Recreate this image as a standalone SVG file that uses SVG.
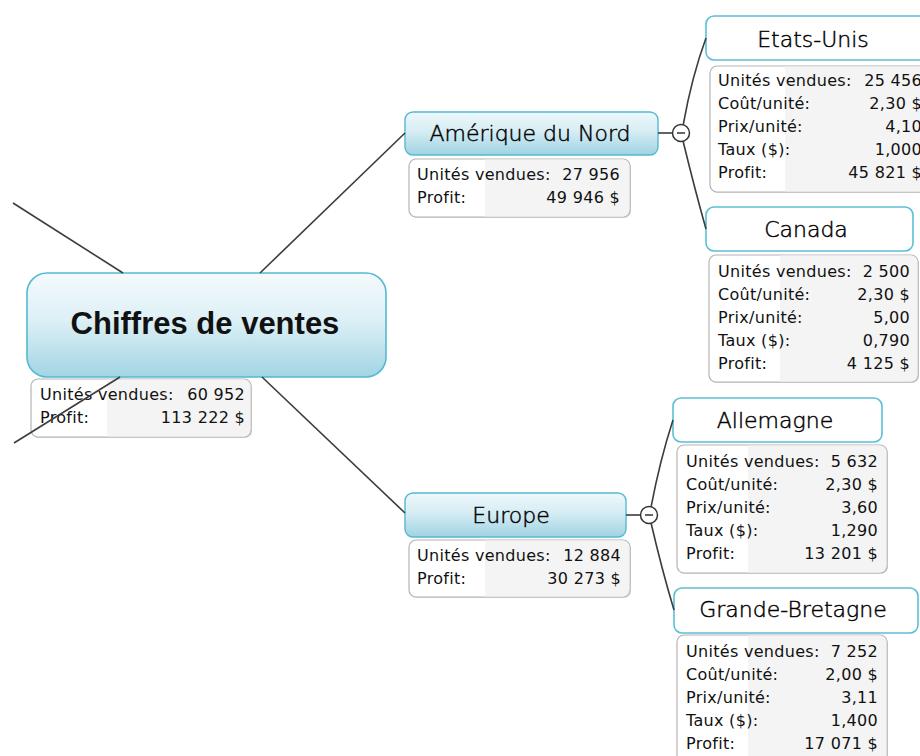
<svg xmlns="http://www.w3.org/2000/svg" width="920" height="756" viewBox="0 0 920 756">
<defs>
<linearGradient id="gMain" x1="0" y1="0" x2="0" y2="1">
<stop offset="0" stop-color="#f4fafc"/>
<stop offset="0.45" stop-color="#ddf0f6"/>
<stop offset="1" stop-color="#a2d5e4"/>
</linearGradient>
<linearGradient id="gSub" x1="0" y1="0" x2="0" y2="1">
<stop offset="0" stop-color="#eef8fb"/>
<stop offset="0.45" stop-color="#d6edf4"/>
<stop offset="1" stop-color="#9fd3e2"/>
</linearGradient>
</defs>
<style>
.bg{fill:#ffffff}
.conn{fill:none;stroke:#3c3c3c;stroke-width:1.6}
.central{fill:url(#gMain);stroke:#55b9d1;stroke-width:1.6}
.sub{fill:url(#gSub);stroke:#55b9d1;stroke-width:1.4}
.leaf{fill:#ffffff;stroke:#5bbfd6;stroke-width:1.6}
.box{fill:#ffffff;stroke:#b4b4b4;stroke-width:1.2}
.shadow{fill:#d6d6d6}
.col{fill:#f4f4f4}
.toggle{fill:#ffffff;stroke:#333333;stroke-width:1.5}
.minus{stroke:#333333;stroke-width:1.5}
.ttl{font-family:"Liberation Sans",Arial,sans-serif;font-weight:bold;font-size:31px;fill:#111111;text-anchor:middle}
.nt{font-family:"DejaVu Sans",Verdana,sans-serif;font-weight:300;font-size:22px;fill:#000000;stroke:#000000;stroke-width:0.45;text-anchor:middle}
.lb{font-family:"DejaVu Sans",Verdana,sans-serif;font-size:16px;letter-spacing:0.3px;fill:#111111}
.vl{font-family:"DejaVu Sans",Verdana,sans-serif;font-size:16px;letter-spacing:0.3px;fill:#111111;text-anchor:end}
</style>
<rect class="bg" x="0" y="0" width="920" height="756"/>

<g id="central">
<rect class="central" x="27" y="273" width="359" height="104" rx="20"/>
<text class="ttl" x="205" y="334">Chiffres de ventes</text>
<rect class="shadow" x="32" y="380" width="220" height="58" rx="7"/>
<rect class="box" x="31" y="379" width="220" height="58" rx="7"/>
<path class="col" d="M107 379.6 H244 A6.4 6.4 0 0 1 250.4 386 V430 A6.4 6.4 0 0 1 244 436.4 H107 Z"/>
<text class="lb" x="40" y="400">Unités vendues:</text><text class="vl" x="245" y="400">60 952</text>
<text class="lb" x="40" y="423">Profit:</text><text class="vl" x="245" y="423">113 222 $</text>
</g>

<g id="amerique">
<rect class="sub" x="405" y="112" width="253" height="43" rx="8"/>
<text class="nt" x="530" y="141">Amérique du Nord</text>
<rect class="shadow" x="410" y="160" width="221" height="58" rx="7"/>
<rect class="box" x="409" y="159" width="221" height="58" rx="7"/>
<path class="col" d="M485 159.6 H623 A6.4 6.4 0 0 1 629.4 166 V210 A6.4 6.4 0 0 1 623 216.4 H485 Z"/>
<text class="lb" x="417" y="180">Unités vendues:</text><text class="vl" x="620" y="180">27 956</text>
<text class="lb" x="417" y="203">Profit:</text><text class="vl" x="620" y="203">49 946 $</text>
<circle class="toggle" cx="681" cy="133" r="8.5"/>
<line class="minus" x1="677" y1="133" x2="685" y2="133"/>
</g>

<g id="etats-unis">
<rect class="leaf" x="706" y="16" width="222" height="44" rx="8"/>
<text class="nt" x="813" y="47">Etats-Unis</text>
<rect class="shadow" x="711" y="67" width="220" height="126" rx="7"/>
<rect class="box" x="710" y="66" width="220" height="126" rx="7"/>
<path class="col" d="M785 66.6 H923 A6.4 6.4 0 0 1 929.4 73 V185 A6.4 6.4 0 0 1 923 191.4 H785 Z"/>
<text class="lb" x="718" y="86">Unités vendues:</text><text class="vl" x="922" y="86">25 456</text>
<text class="lb" x="718" y="109">Coût/unité:</text><text class="vl" x="922" y="109">2,30 $</text>
<text class="lb" x="718" y="132">Prix/unité:</text><text class="vl" x="922" y="132">4,10</text>
<text class="lb" x="718" y="155">Taux ($):</text><text class="vl" x="922" y="155">1,000</text>
<text class="lb" x="718" y="178">Profit:</text><text class="vl" x="922" y="178">45 821 $</text>
</g>

<g id="canada">
<rect class="leaf" x="706" y="207" width="207" height="44" rx="8"/>
<text class="nt" x="806" y="237">Canada</text>
<rect class="shadow" x="710" y="256" width="209" height="127" rx="7"/>
<rect class="box" x="709" y="255" width="209" height="127" rx="7"/>
<path class="col" d="M780 255.6 H911 A6.4 6.4 0 0 1 917.4 262 V375 A6.4 6.4 0 0 1 911 381.4 H780 Z"/>
<text class="lb" x="718" y="277">Unités vendues:</text><text class="vl" x="910" y="277">2 500</text>
<text class="lb" x="718" y="300">Coût/unité:</text><text class="vl" x="910" y="300">2,30 $</text>
<text class="lb" x="718" y="323">Prix/unité:</text><text class="vl" x="910" y="323">5,00</text>
<text class="lb" x="718" y="346">Taux ($):</text><text class="vl" x="910" y="346">0,790</text>
<text class="lb" x="718" y="369">Profit:</text><text class="vl" x="910" y="369">4 125 $</text>
</g>

<g id="europe">
<rect class="sub" x="405" y="493" width="221" height="44" rx="8"/>
<text class="nt" x="511" y="523">Europe</text>
<rect class="shadow" x="410" y="541" width="221" height="57" rx="7"/>
<rect class="box" x="409" y="540" width="221" height="57" rx="7"/>
<path class="col" d="M485 540.6 H623 A6.4 6.4 0 0 1 629.4 547 V590 A6.4 6.4 0 0 1 623 596.4 H485 Z"/>
<text class="lb" x="417" y="561">Unités vendues:</text><text class="vl" x="621" y="561">12 884</text>
<text class="lb" x="417" y="584">Profit:</text><text class="vl" x="621" y="584">30 273 $</text>
<circle class="toggle" cx="649" cy="515" r="8.5"/>
<line class="minus" x1="645" y1="515" x2="653" y2="515"/>
</g>

<g id="allemagne">
<rect class="leaf" x="673" y="398" width="209" height="44" rx="8"/>
<text class="nt" x="775" y="428">Allemagne</text>
<rect class="shadow" x="678" y="446" width="210" height="128" rx="7"/>
<rect class="box" x="677" y="445" width="210" height="128" rx="7"/>
<path class="col" d="M748 445.6 H880 A6.4 6.4 0 0 1 886.4 452 V566 A6.4 6.4 0 0 1 880 572.4 H748 Z"/>
<text class="lb" x="686" y="467">Unités vendues:</text><text class="vl" x="878" y="467">5 632</text>
<text class="lb" x="686" y="490">Coût/unité:</text><text class="vl" x="878" y="490">2,30 $</text>
<text class="lb" x="686" y="513">Prix/unité:</text><text class="vl" x="878" y="513">3,60</text>
<text class="lb" x="686" y="536">Taux ($):</text><text class="vl" x="878" y="536">1,290</text>
<text class="lb" x="686" y="559">Profit:</text><text class="vl" x="878" y="559">13 201 $</text>
</g>

<g id="grande-bretagne">
<rect class="leaf" x="674" y="588" width="244" height="45" rx="8"/>
<text class="nt" x="793" y="617">Grande-Bretagne</text>
<rect class="shadow" x="678" y="636" width="210" height="130" rx="7"/>
<rect class="box" x="677" y="635" width="210" height="130" rx="7"/>
<path class="col" d="M748 635.6 H880 A6.4 6.4 0 0 1 886.4 642 V758 A6.4 6.4 0 0 1 880 764.4 H748 Z"/>
<text class="lb" x="686" y="657">Unités vendues:</text><text class="vl" x="878" y="657">7 252</text>
<text class="lb" x="686" y="680">Coût/unité:</text><text class="vl" x="878" y="680">2,00 $</text>
<text class="lb" x="686" y="703">Prix/unité:</text><text class="vl" x="878" y="703">3,11</text>
<text class="lb" x="686" y="726">Taux ($):</text><text class="vl" x="878" y="726">1,400</text>
<text class="lb" x="686" y="749">Profit:</text><text class="vl" x="878" y="749">17 071 $</text>
</g>

<g id="connectors">
<line class="conn" x1="13" y1="203" x2="123" y2="273"/>
<line class="conn" x1="14" y1="443" x2="120" y2="377"/>
<line class="conn" x1="260" y1="273" x2="405" y2="133"/>
<line class="conn" x1="262" y1="377" x2="405" y2="513"/>
<line class="conn" x1="658" y1="133" x2="672.5" y2="133"/>
<path class="conn" d="M683.2 124.8 Q692 76 706 38"/>
<path class="conn" d="M683.1 141.2 Q695 190 706 229"/>
<line class="conn" x1="626" y1="515" x2="640.5" y2="515"/>
<path class="conn" d="M651.1 506.8 Q660 460 673 420"/>
<path class="conn" d="M651.1 523.2 Q662 570 674 610"/>
</g>
</svg>
